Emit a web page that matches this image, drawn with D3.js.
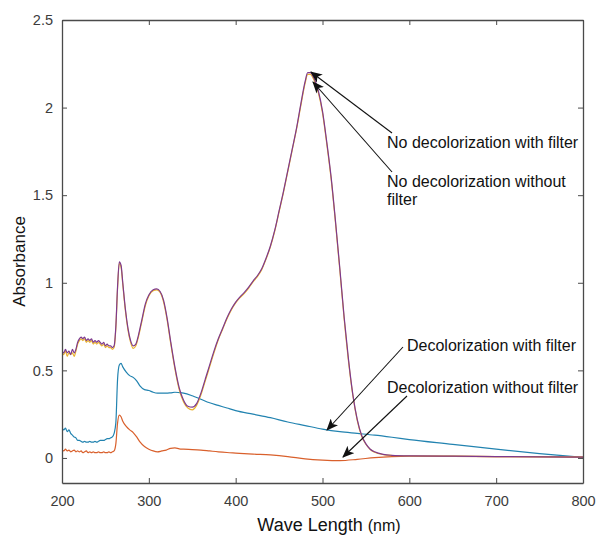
<!DOCTYPE html>
<html>
<head>
<meta charset="utf-8">
<script src="https://cdn.jsdelivr.net/npm/d3@7"></script>
<style>
  html, body { margin: 0; padding: 0; background: #fff; }
  svg { display: block; font-family: "Liberation Sans", Arial, sans-serif; }
</style>
</head>
<body>
<svg id="chart" width="596" height="537"></svg>
<script>
// Wavelength grid (nm) for the undecolorized dye spectra
const wlDye = [
  200,202,204,206,208,210,212,214,216,218,220,222,224,226,228,230,232,234,236,238,240,242,244,246,248,250,252,254,256,258,260,
  262,264,266,268,270,273,276,279,282,285,288,292,296,300,305,309,313,317,321,325,330,335,340,345,350,355,360,365,370,375,380,
  385,390,395,400,405,410,415,420,425,430,435,440,445,450,455,460,465,470,475,480,483,486,490,495,500,505,510,515,520,525,530,
  535,540,545,550,555,560,570,580,600,650,700,750,800
];
// No decolorization with filter
const dyeWithFilter = [
  0.61,0.60,0.62,0.60,0.61,0.59,0.62,0.60,0.62,0.66,0.68,0.69,0.68,0.69,0.67,0.68,0.67,0.68,0.66,0.67,0.66,0.67,0.66,0.65,0.66,0.64,0.65,0.64,0.64,0.63,0.64,
  0.75,0.98,1.12,1.10,1.00,0.85,0.74,0.67,0.64,0.65,0.70,0.79,0.88,0.93,0.96,0.965,0.95,0.90,0.80,0.67,0.52,0.40,0.33,0.295,0.29,0.31,0.37,0.45,0.53,0.61,0.68,
  0.74,0.80,0.85,0.89,0.92,0.945,0.975,1.01,1.04,1.08,1.14,1.21,1.30,1.41,1.52,1.64,1.76,1.88,2.02,2.15,2.20,2.20,2.17,2.10,1.98,1.80,1.60,1.35,1.08,0.80,0.56,
  0.36,0.22,0.13,0.08,0.05,0.035,0.02,0.015,0.012,0.01,0.008,0.006,0.005
];
// No decolorization without filter
const dyeWithoutFilter = [
  0.60,0.59,0.61,0.58,0.60,0.59,0.60,0.58,0.61,0.65,0.67,0.68,0.67,0.68,0.66,0.67,0.66,0.67,0.65,0.66,0.65,0.66,0.65,0.64,0.65,0.63,0.64,0.63,0.63,0.62,0.63,
  0.74,0.97,1.11,1.09,0.99,0.84,0.73,0.66,0.625,0.64,0.69,0.78,0.87,0.925,0.955,0.96,0.945,0.89,0.79,0.66,0.51,0.39,0.32,0.285,0.275,0.30,0.36,0.44,0.52,0.60,0.675,
  0.735,0.795,0.845,0.885,0.915,0.94,0.97,1.005,1.035,1.075,1.135,1.205,1.295,1.405,1.515,1.635,1.755,1.875,2.01,2.14,2.19,2.19,2.16,2.09,1.97,1.79,1.59,1.34,1.07,0.79,0.55,
  0.355,0.215,0.125,0.078,0.048,0.033,0.019,0.014,0.011,0.01,0.008,0.006,0.005
];

// Wavelength grid (nm) for the decolorized samples
const wlDecol = [
  200,202,204,206,208,210,212,214,216,218,220,222,224,226,228,230,232,234,236,238,240,242,244,246,248,250,252,254,256,258,260,
  262,264,266,268,270,274,278,282,286,290,295,300,305,310,315,320,325,330,335,340,350,360,370,380,390,400,420,440,460,480,500,
  520,540,560,580,600,650,700,750,800
];
// Decolorization with filter
const decolWithFilter = [
  0.17,0.16,0.17,0.15,0.16,0.14,0.13,0.12,0.115,0.10,0.10,0.095,0.09,0.095,0.09,0.09,0.095,0.09,0.09,0.095,0.09,0.095,0.10,0.10,0.10,0.105,0.11,0.11,0.115,0.12,0.14,
  0.20,0.45,0.53,0.54,0.52,0.49,0.47,0.46,0.44,0.41,0.39,0.385,0.375,0.37,0.37,0.37,0.372,0.375,0.373,0.37,0.355,0.335,0.315,0.30,0.285,0.27,0.25,0.23,0.205,0.185,0.165,
  0.15,0.14,0.13,0.118,0.105,0.078,0.05,0.025,0.003
];
// Decolorization without filter
const decolWithoutFilter = [
  0.045,0.04,0.05,0.04,0.045,0.035,0.04,0.045,0.035,0.04,0.035,0.04,0.03,0.035,0.04,0.03,0.035,0.03,0.035,0.03,0.03,0.035,0.03,0.03,0.035,0.03,0.03,0.035,0.03,0.035,0.04,
  0.08,0.20,0.245,0.235,0.21,0.18,0.16,0.145,0.12,0.09,0.065,0.05,0.04,0.035,0.04,0.045,0.055,0.057,0.052,0.05,0.048,0.045,0.04,0.035,0.031,0.028,0.022,0.017,0.008,-0.005,-0.012,
  -0.015,-0.008,0.002,0.008,0.01,0.009,0.008,0.007,0.005
];

const xTicks = [200, 300, 400, 500, 600, 700, 800];
const yTicks = [0, 0.5, 1, 1.5, 2, 2.5];

const seriesList = [
  { name: "Decolorization with filter", wl: wlDecol, values: decolWithFilter, color: "#2283b0" },
  { name: "Decolorization without filter", wl: wlDecol, values: decolWithoutFilter, color: "#d9602c" },
  { name: "No decolorization without filter", wl: wlDye, values: dyeWithoutFilter, color: "#e9b22e" },
  { name: "No decolorization with filter", wl: wlDye, values: dyeWithFilter, color: "#7e3a8e" }
];

const svg = d3.select("#chart");
const plot = { left: 62, top: 20, right: 583, bottom: 483 };

const x = d3.scaleLinear().domain([200, 800]).range([plot.left, plot.right]);
const y = d3.scaleLinear().domain([-0.143, 2.5]).range([plot.bottom, plot.top]);

const axisColor = "#4a4a4a";
const tickColor = "#3c3c3c";

// Curves
const line = d3.line()
  .x(d => x(d[0]))
  .y(d => y(d[1]))
  .curve(d3.curveMonotoneX);

svg.append("defs").append("clipPath").attr("id", "plotClip")
  .append("rect")
  .attr("x", plot.left).attr("y", plot.top)
  .attr("width", plot.right - plot.left).attr("height", plot.bottom - plot.top);

svg.append("g").attr("clip-path", "url(#plotClip)")
  .selectAll("path")
  .data(seriesList)
  .join("path")
  .attr("fill", "none")
  .attr("stroke", d => d.color)
  .attr("stroke-width", 1.2)
  .attr("stroke-linejoin", "round")
  .attr("d", d => line(d.wl.map((w, i) => [w, d.values[i]])));

// Axes with inward ticks on all four sides (boxed frame)
const tickLen = 5;
const gBottom = svg.append("g").attr("transform", `translate(0,${plot.bottom})`)
  .call(d3.axisBottom(x).tickValues(xTicks).tickSizeInner(-tickLen).tickSizeOuter(0).tickPadding(13).tickFormat(d3.format("d")));
const gTop = svg.append("g").attr("transform", `translate(0,${plot.top})`)
  .call(d3.axisTop(x).tickValues(xTicks).tickSizeInner(-tickLen).tickSizeOuter(0).tickFormat(""));
const gLeft = svg.append("g").attr("transform", `translate(${plot.left},0)`)
  .call(d3.axisLeft(y).tickValues(yTicks).tickSizeInner(-tickLen).tickSizeOuter(0).tickPadding(9).tickFormat(d => d3.format("")(d)));
const gRight = svg.append("g").attr("transform", `translate(${plot.right},0)`)
  .call(d3.axisRight(y).tickValues(yTicks).tickSizeInner(-tickLen).tickSizeOuter(0).tickFormat(""));

[gBottom, gTop, gLeft, gRight].forEach(g => {
  g.select(".domain").attr("stroke", axisColor).attr("stroke-width", 1.3);
  g.selectAll(".tick line").attr("stroke", axisColor).attr("stroke-width", 1);
  g.selectAll(".tick text").attr("fill", tickColor).attr("font-size", 14.5)
    .attr("font-family", "'Liberation Sans', Arial, sans-serif");
});

// Axis titles
svg.append("text")
  .attr("transform", `translate(25,${(plot.top + plot.bottom) / 2 + 10}) rotate(-90)`)
  .attr("text-anchor", "middle")
  .attr("font-size", 17)
  .attr("fill", "#111")
  .text("Absorbance");

const xTitle = svg.append("text")
  .attr("x", 329)
  .attr("y", 531)
  .attr("text-anchor", "middle")
  .attr("fill", "#111");
xTitle.append("tspan").attr("font-size", 18).text("Wave Length ");
xTitle.append("tspan").attr("font-size", 16).text("(nm)");

// Annotations with arrows
const defs = svg.select("defs");
defs.append("marker")
  .attr("id", "arrowHead")
  .attr("viewBox", "0 0 12 10")
  .attr("refX", 11).attr("refY", 5)
  .attr("markerWidth", 12).attr("markerHeight", 10)
  .attr("markerUnits", "userSpaceOnUse")
  .attr("orient", "auto")
  .append("path")
  .attr("d", "M0,0 L12,5 L0,10 L3,5 Z")
  .attr("fill", "#111");

const notes = [
  { lines: ["No decolorization with filter"], tx: 387, ty: 148, from: [392, 133], to: [311, 72] },
  { lines: ["No decolorization without", "filter"], tx: 387, ty: 187, from: [392, 172], to: [313, 82] },
  { lines: ["Decolorization with filter"], tx: 407, ty: 351, from: [403, 347], to: [327, 430] },
  { lines: ["Decolorization without filter"], tx: 387, ty: 393, from: [407, 396], to: [343, 457] }
];

const noteG = svg.append("g");
notes.forEach(n => {
  noteG.append("line")
    .attr("x1", n.from[0]).attr("y1", n.from[1])
    .attr("x2", n.to[0]).attr("y2", n.to[1])
    .attr("stroke", "#111").attr("stroke-width", 1.1)
    .attr("marker-end", "url(#arrowHead)");
  const t = noteG.append("text")
    .attr("x", n.tx).attr("y", n.ty)
    .attr("font-size", 16)
    .attr("fill", "#111");
  n.lines.forEach((s, i) => {
    t.append("tspan").attr("x", n.tx).attr("dy", i === 0 ? 0 : 18).text(s);
  });
});
</script>
</body>
</html>
